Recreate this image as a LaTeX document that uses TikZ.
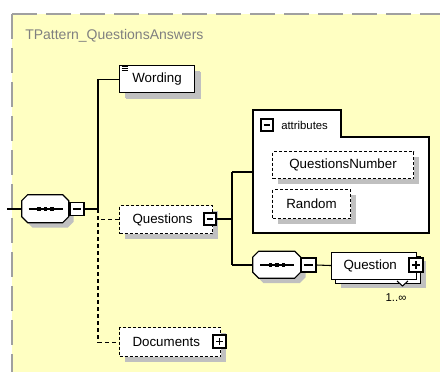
\documentclass[tikz,border=0pt]{standalone}
\usepackage{fontspec}
\setmainfont{Liberation Sans}
\usetikzlibrary{shadows}
\definecolor{bgyellow}{RGB}{255,255,194}
\definecolor{bordergray}{RGB}{160,160,160}
\definecolor{shadowgray}{RGB}{192,192,192}
\definecolor{titlegray}{RGB}{128,128,128}
\newcommand{\pxx}[1]{#1*0.75pt}
% octagon (sequence compositor) drawn around a named node: name, width, height
\newcommand{\octa}[3]{%
  \fill[shadowgray, shift={(#1.north west)}, shift={(5,5)}] (6,0) -- (#2-6,0) -- (#2,6) -- (#2,#3-6) -- (#2-6,#3) -- (6,#3) -- (0,#3-6) -- (0,6) -- cycle;
  \draw[line width=0.8pt, fill=white, shift={(#1.north west)}] (6,0) -- (#2-6,0) -- (#2,6) -- (#2,#3-6) -- (#2-6,#3) -- (6,#3) -- (0,#3-6) -- (0,6) -- cycle;
  \draw[line width=0.8pt, shift={(#1.center)}] (-17,0) -- (17,0);
  \foreach \dx in {-6.5,0,6.5} \fill[shift={(#1.center)}] (\dx-1.8,-1.8) rectangle ++(3.6,3.6);
}
\begin{document}
\begin{tikzpicture}[x=0.75pt,y=-0.75pt,
  shad/.style={drop shadow={fill=shadowgray, opacity=1, shadow xshift=3.75pt, shadow yshift=-3.75pt}},
  elem/.style={draw, fill=white, line width=0.8pt, inner sep=0pt, font=\fontsize{10}{12}\selectfont, shad},
  optelem/.style={elem, dash pattern=on 2.25pt off 1.5pt},
  seqbox/.style={inner sep=0pt},
  minusbox/.style={draw, fill=white, line width=0.8pt, inner sep=0pt,
    path picture={\draw[line width=0.8pt] ([xshift=2.2pt]path picture bounding box.west) -- ([xshift=-2.2pt]path picture bounding box.east);}},
  plusbox/.style={draw, fill=white, line width=0.8pt, inner sep=0pt,
    path picture={\draw[line width=0.8pt] ([xshift=2.2pt]path picture bounding box.west) -- ([xshift=-2.2pt]path picture bounding box.east);
      \draw[line width=0.8pt] ([yshift=-2.2pt]path picture bounding box.north) -- ([yshift=2.2pt]path picture bounding box.south);}},
  conn/.style={draw, line width=0.8pt},
  dconn/.style={draw, line width=0.8pt, dash pattern=on 3pt off 2.25pt}
]
\useasboundingbox (0,0) rectangle (440,372);
\fill[white] (0,0) rectangle (440,372);
\fill[bgyellow] (12,14) rectangle (440,372);
\draw[bordergray, line width=1.5pt, dash pattern=on 18.75pt off 6.75pt] (12,14) -- (440,14);
\draw[bordergray, line width=1.5pt, dash pattern=on 18.75pt off 6.75pt] (12,14) -- (12,372);

\node[anchor=west, text=titlegray, font=\fontsize{10.5}{12}\selectfont, inner sep=0pt] (title) at (25,36) {TPattern\_QuestionsAnswers};

% main sequence
\node[seqbox, minimum width=\pxx{47}, minimum height=\pxx{28}] (seq1) at (45.5,209) {};
\octa{seq1}{47}{28}
\node[minusbox, minimum width=\pxx{14}, minimum height=\pxx{13}] (m1) at (77,209) {};

% Wording
\node[elem, anchor=north west, minimum width=\pxx{75}, minimum height=\pxx{27}, drop shadow={fill=shadowgray, opacity=1, shadow xshift=4.5pt, shadow yshift=-4.5pt}] (wording) at (119,65) {Wording};
\foreach \dy in {1.5,3.5,5.5} \draw[line width=0.75pt] ([shift={(2.5,\dy)}]wording.north west) -- ++(6,0);

% Questions
\node[optelem, anchor=north west, minimum height=\pxx{28}, text width=\pxx{67}, inner xsep=\pxx{13}, align=left] (questions) at (119,205) {Questions};
\node[minusbox, minimum size=\pxx{12}] (qexp) at (210,219) {};

% Documents
\node[optelem, anchor=north west, minimum height=\pxx{29}, text width=\pxx{75}, inner xsep=\pxx{13}, align=left] (documents) at (119,327) {Documents};
\node[plusbox, minimum size=\pxx{13}] (dexp) at (219.5,341.5) {};

% attributes container
\node[minimum width=\pxx{176}, minimum height=\pxx{96}, anchor=north west, inner sep=0pt] (attr) at (253,137) {};
\draw[line width=0.8pt, fill=white] (253,110) -- (341,110) -- (341,137) -- (429,137) -- (429,233) -- (253,233) -- cycle;
\node[minusbox, minimum size=\pxx{12}] (attrexp) at (267,125) {};
\node[anchor=west, font=\fontsize{8.5}{10}\selectfont, inner sep=0pt] (attrlabel) at (281,125) {attributes};
\node[optelem, anchor=north west, minimum width=\pxx{141}, minimum height=\pxx{27}] (qnum) at (272,151) {QuestionsNumber};
\node[optelem, anchor=north west, minimum width=\pxx{78}, minimum height=\pxx{29}] (random) at (272,189) {Random};

% inner sequence
\node[seqbox, minimum width=\pxx{48}, minimum height=\pxx{27}] (seq2) at (277,265) {};
\octa{seq2}{48}{27}
\node[minusbox, minimum width=\pxx{15}, minimum height=\pxx{14}] (m2) at (308.5,265) {};

% Question (repeated)
\node[elem, anchor=north west, minimum width=\pxx{85}, minimum height=\pxx{27}] (qback) at (335,255.5) {};
\draw[line width=0.8pt, fill=white] (397,281) -- (402.5,286) -- (408,281);
\node[draw, fill=white, line width=0.8pt, inner sep=0pt, font=\fontsize{10}{12}\selectfont, anchor=north west, minimum height=\pxx{27}, text width=\pxx{61}, inner xsep=\pxx{12}, align=left] (question) at (331,251.5) {Question};
\node[plusbox, minimum size=\pxx{14}] (qplus) at (416,265) {};
\node[font=\fontsize{8.5}{10}\selectfont, inner sep=0pt] (mult) at (396,298) {1..∞};

% connectors
\coordinate (in) at (7,209);
\coordinate (j1) at (98,209);
\coordinate (j2a) at (232,172);
\coordinate (j2b) at (232,265);
\draw[conn] (in) -- (seq1.west);
\draw[conn] (seq1.east) -- (m1.west);
\draw[conn] (m1.east) -- (j1);
\draw[conn] (j1) |- (wording.west);
\draw[dconn] (j1) |- (questions.west);
\draw[dconn] (j1) |- (documents.west);
\draw[conn] (qexp.east) -- (qexp.east -| j2a);
\draw[conn] (j2a) -- (j2b);
\draw[conn] (j2a) -- (j2a -| attr.west);
\draw[conn] (j2b) -- (seq2.west);
\draw[conn] (seq2.east) -- (m2.west);
\draw[conn] (m2.east) -- (question.west);
\end{tikzpicture}
\end{document}
